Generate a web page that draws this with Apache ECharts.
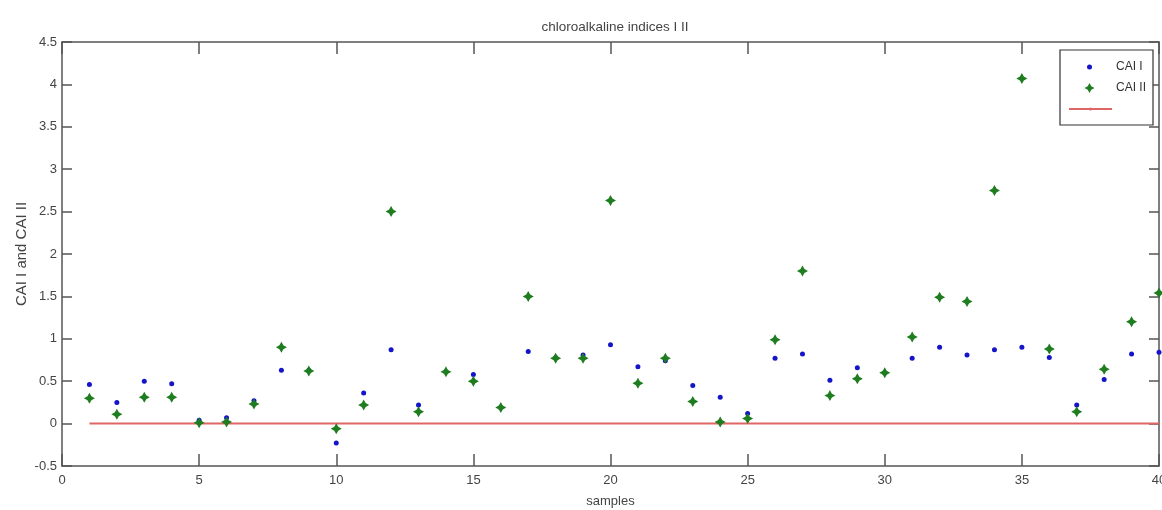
<!DOCTYPE html>
<html>
<head>
<meta charset="utf-8">
<title>chloroalkaline indices I II</title>
<script src="https://cdn.jsdelivr.net/npm/echarts@6/dist/echarts.min.js"></script>
<style>
  html, body { margin: 0; padding: 0; background: #fff; }
  #main { width: 1162px; height: 510px; }
</style>
</head>
<body>
<div id="main"></div>
<script>
// sample numbers (x)
var samples = [1, 2, 3, 4, 5, 6, 7, 8, 9, 10, 11, 12, 13, 14, 15, 16, 17, 18, 19, 20,
  21, 22, 23, 24, 25, 26, 27, 28, 29, 30, 31, 32, 33, 34, 35, 36, 37, 38, 39, 40];
// CAI I values (blue dots)
var caiI = [0.46, 0.25, 0.50, 0.47, 0.04, 0.07, 0.27, 0.63, 0.63, -0.23,
  0.36, 0.87, 0.22, 0.61, 0.58, 0.19, 0.85, 0.78, 0.81, 0.93,
  0.67, 0.74, 0.45, 0.31, 0.12, 0.77, 0.82, 0.51, 0.66, 0.60,
  0.77, 0.90, 0.81, 0.87, 0.90, 0.78, 0.22, 0.52, 0.82, 0.84];
// CAI II values (green stars)
var caiII = [0.30, 0.11, 0.31, 0.31, 0.01, 0.02, 0.23, 0.90, 0.62, -0.06,
  0.22, 2.50, 0.14, 0.61, 0.50, 0.19, 1.50, 0.77, 0.77, 2.63,
  0.475, 0.77, 0.26, 0.02, 0.06, 0.99, 1.80, 0.33, 0.53, 0.60,
  1.02, 1.49, 1.44, 2.75, 4.07, 0.88, 0.14, 0.64, 1.20, 1.54];
// reference line at zero
var zeroLine = [0, 0, 0, 0, 0, 0, 0, 0, 0, 0, 0, 0, 0, 0, 0, 0, 0, 0, 0, 0,
  0, 0, 0, 0, 0, 0, 0, 0, 0, 0, 0, 0, 0, 0, 0, 0, 0, 0, 0, 0];

var starPath = 'path://M0,-5 L1.8,-1.8 L5,0 L1.8,1.8 L0,5 L-1.8,1.8 L-5,0 L-1.8,-1.8 Z';
// legend icons padded to the full 43px icon box so they sit centred
var dotIcon = 'path://M0,0 M43,6 M24,3 A2.5,2.5 0 1 1 19,3 A2.5,2.5 0 1 1 24,3 Z';
var starIcon = 'path://M0,0 M43,10 M21.5,0 L23.3,3.2 L26.5,5 L23.3,6.8 L21.5,10 L19.7,6.8 L16.5,5 L19.7,3.2 Z';
var axisColor = '#555';
var font = 'Liberation Sans';

function pairs(xs, ys) {
  return xs.map(function (x, i) { return [x, ys[i]]; });
}

function baseAxis(pos, isX) {
  return {
    type: 'value',
    position: pos,
    min: isX ? 0 : -0.5,
    max: isX ? 40 : 4.5,
    interval: isX ? 5 : 0.5,
    axisLine: { show: true, onZero: false, lineStyle: { color: axisColor, width: 1.5 } },
    axisTick: { show: true, inside: true, length: isX ? 12 : 10, lineStyle: { color: axisColor, width: 1.5 } },
    splitLine: { show: false },
    axisLabel: { show: false }
  };
}

var chart = echarts.init(document.getElementById('main'));

var xBottom = baseAxis('bottom', true);
xBottom.axisLabel = { show: true, color: '#444', fontSize: 13, fontFamily: font, margin: 8 };
xBottom.name = 'samples';
xBottom.nameLocation = 'middle';
xBottom.nameGap = 29;
xBottom.nameMoveOverlap = false;
xBottom.nameTextStyle = { color: '#444', fontSize: 13, fontFamily: font };

var yLeft = baseAxis('left', false);
yLeft.axisLabel = { show: true, color: '#444', fontSize: 13, fontFamily: font, margin: 5 };
yLeft.name = 'CAI I and CAI II';
yLeft.nameLocation = 'middle';
yLeft.nameGap = 33;
yLeft.nameMoveOverlap = false;
yLeft.nameTextStyle = { color: '#444', fontSize: 15, fontFamily: font };

var legendText = { color: '#333', fontSize: 12, fontFamily: font };

chart.setOption({
  animation: false,
  backgroundColor: '#fff',
  title: {
    text: 'chloroalkaline indices I II',
    left: 610,
    textAlign: 'center',
    top: 15,
    textStyle: { color: '#444', fontSize: 13.5, fontWeight: 'normal', fontFamily: font }
  },
  grid: { left: 62, right: 3, top: 42, bottom: 44, containLabel: false, outerBoundsMode: 'none' },
  xAxis: [xBottom, baseAxis('top', true)],
  yAxis: [yLeft, baseAxis('right', false)],
  graphic: [{
    type: 'rect',
    z: 3,
    shape: { x: 1060, y: 50, width: 93, height: 75 },
    style: { fill: '#fff', stroke: '#333', lineWidth: 1.2 }
  }],
  legend: [
    {
      data: [{ name: 'CAI I', icon: dotIcon }],
      left: 1068, top: 61, padding: 0, z: 5,
      itemWidth: 43, itemHeight: 6, textStyle: legendText, selectedMode: false
    },
    {
      data: [{ name: 'CAI II', icon: starIcon }],
      left: 1068, top: 82, padding: 0, z: 5,
      itemWidth: 43, itemHeight: 10, textStyle: legendText, selectedMode: false
    },
    {
      data: ['zero'],
      left: 1068, top: 107, padding: 0, z: 5,
      itemWidth: 43, itemHeight: 4, textStyle: legendText, selectedMode: false,
      formatter: function () { return ''; }
    }
  ],
  series: [
    {
      name: 'zero',
      type: 'line',
      data: pairs(samples, zeroLine),
      symbol: 'none',
      lineStyle: { color: '#e06666', width: 2 },
      itemStyle: { color: '#e06666' },
      z: 1
    },
    {
      name: 'CAI I',
      type: 'scatter',
      data: pairs(samples, caiI),
      symbol: 'circle',
      symbolSize: 5,
      itemStyle: { color: '#1414c8', opacity: 1 },
      z: 2
    },
    {
      name: 'CAI II',
      type: 'scatter',
      data: pairs(samples, caiII),
      symbol: starPath,
      symbolSize: 11,
      symbolKeepAspect: true,
      itemStyle: { color: '#1e7d1e', opacity: 1 },
      z: 3
    }
  ]
});
</script>
</body>
</html>
